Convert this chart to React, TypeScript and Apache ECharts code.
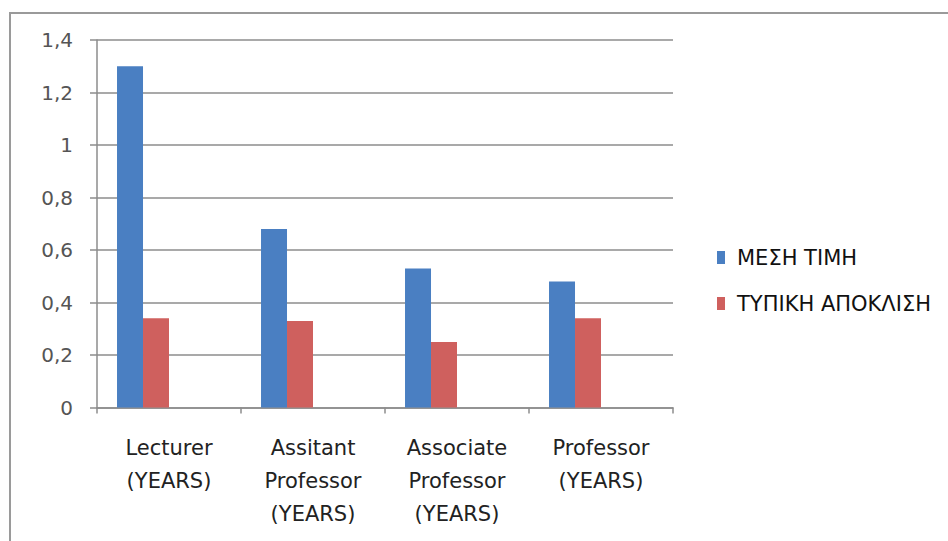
import React, { useEffect, useRef } from "react";
import * as echarts from "echarts";

const categories = [
  "Lecturer\n(YEARS)",
  "Assitant\nProfessor\n(YEARS)",
  "Associate\nProfessor\n(YEARS)",
  "Professor\n(YEARS)",
];
const meanValues = [1.3, 0.68, 0.53, 0.48];
const sdValues = [0.34, 0.33, 0.25, 0.34];
const seriesNames = ["ΜΕΣΗ ΤΙΜΗ", "ΤΥΠΙΚΗ ΑΠΟΚΛΙΣΗ"];

export default function App() {
  const ref = useRef<HTMLDivElement>(null);
  useEffect(() => {
    if (!ref.current) return;
    const chart = echarts.init(ref.current, null, { renderer: "svg" });
    const font = "'DejaVu Sans', sans-serif";
    chart.setOption({
      animation: false,
      backgroundColor: "#ffffff",
      textStyle: { fontFamily: font },
      grid: { left: 97, right: 275, top: 40, bottom: 133.5, containLabel: false },
      graphic: [
        {
          type: "rect",
          shape: { x: 10, y: 13, width: 960, height: 560 },
          style: { fill: "none", stroke: "#9a9a9a", lineWidth: 2 },
          silent: true,
        },
      ],
      legend: {
        orient: "vertical",
        left: 712,
        top: 242,
        itemGap: 25,
        itemWidth: 8,
        itemHeight: 13,
        icon: "rect",
        data: seriesNames,
        textStyle: { fontSize: 21, color: "#111", fontFamily: font, padding: [0, 0, 0, 7] },
      },
      xAxis: {
        type: "category",
        data: categories,
        axisLine: { lineStyle: { color: "#8c8c8c", width: 1.5 } },
        axisTick: { show: true, alignWithLabel: false, length: 6, lineStyle: { color: "#8c8c8c", width: 1.5 } },
        axisLabel: {
          fontSize: 21,
          color: "#222",
          lineHeight: 33,
          margin: 24,
          interval: 0,
          fontFamily: font,
        },
      },
      yAxis: {
        type: "value",
        min: 0,
        max: 1.4,
        interval: 0.2,
        axisLine: { show: true, lineStyle: { color: "#8c8c8c", width: 1.5 } },
        axisTick: { show: true, inside: false, length: 7, lineStyle: { color: "#8c8c8c", width: 1.5 } },
        splitLine: { lineStyle: { color: "#8c8c8c", width: 1.5 } },
        axisLabel: {
          fontSize: 20,
          color: "#555",
          margin: 24,
          fontFamily: font,
          formatter: (v: number) => String(Math.round(v * 10) / 10).replace(".", ","),
        },
      },
      series: [
        {
          name: seriesNames[0],
          type: "bar",
          data: meanValues,
          itemStyle: { color: "#4a7fc2" },
          barGap: "0%",
          barCategoryGap: "27.8%",
        },
        {
          name: seriesNames[1],
          type: "bar",
          data: sdValues,
          itemStyle: { color: "#cf605e" },
          barGap: "0%",
          barCategoryGap: "27.8%",
        },
        { name: "s3", type: "bar", data: [null, null, null, null], barGap: "0%", barCategoryGap: "27.8%" },
        { name: "s4", type: "bar", data: [null, null, null, null], barGap: "0%", barCategoryGap: "27.8%" },
      ],
    });
    return () => chart.dispose();
  }, []);
  return (
    <div
      ref={ref}
      style={{ position: "absolute", left: 0, top: 0, width: 948, height: 541 }}
    />
  );
}
